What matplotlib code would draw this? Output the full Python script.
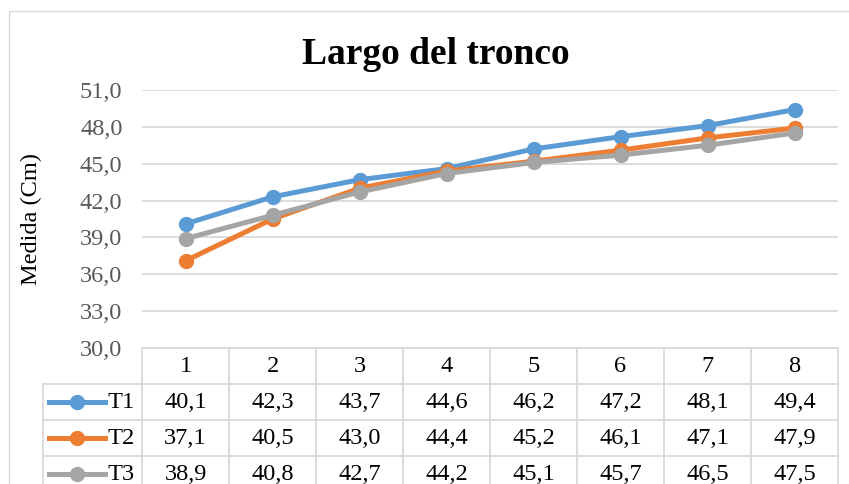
import matplotlib
matplotlib.use("Agg")
import matplotlib.pyplot as plt
from matplotlib.lines import Line2D
import matplotlib.transforms as mtransforms

# datos
semanas = [1, 2, 3, 4, 5, 6, 7, 8]
t1 = [40.1, 42.3, 43.7, 44.6, 46.2, 47.2, 48.1, 49.4]
t2 = [37.1, 40.5, 43.0, 44.4, 45.2, 46.1, 47.1, 47.9]
t3 = [38.9, 40.8, 42.7, 44.2, 45.1, 45.7, 46.5, 47.5]
series = ["T1", "T2", "T3"]
colores = ["#5b9bd5", "#ed7d31", "#a5a5a5"]
yticks = [30, 33, 36, 39, 42, 45, 48, 51]

plt.rcParams['font.family'] = ['Liberation Serif', 'DejaVu Serif']

W, H = 849, 484
fs = 17.6
fig = plt.figure(figsize=(W / 100, H / 100), dpi=100)

# marco del grafico
fig.patches.append(plt.Rectangle((9 / W, -0.1), 1.2, (H - 11) / H + 0.1, transform=fig.transFigure,
                                 fill=False, ec="#d9d9d9", lw=1))

ax = fig.add_axes([142 / W, 1 - 348 / H, (838 - 142) / W, (348 - 90) / H])
x = list(range(len(semanas)))
for vals, c in zip([t1, t2, t3], colores):
    ax.plot(x, vals, color=c, lw=3.6, marker="o", ms=10, zorder=3)

ax.set_xlim(-0.5, len(semanas) - 0.5)
ax.set_ylim(30, 51)
ax.set_yticks(yticks)
ax.set_yticklabels([f"{v:.1f}".replace(".", ",") for v in yticks], color="#595959", fontsize=fs)
ax.tick_params(axis="y", length=0, pad=14)
ax.set_xticks([])
ax.grid(axis="y", color="#d9d9d9", lw=1.3)
for s in ax.spines.values():
    s.set_visible(False)
ax.set_ylabel("Medida (Cm)", fontsize=fs)
ax.yaxis.set_label_coords(-100 / 696, 0.5)
fig.text((303 + 568) / 2 / W, 1 - 55 / H, "Largo del tronco", ha="center", va="center",
         fontsize=27, fontweight="bold")

# tabla de datos
tr = mtransforms.blended_transform_factory(ax.transData, ax.transAxes)
rh = 36 / 258
gc = "#d9d9d9"
xl = -0.5 - 99 / 87
xr = len(semanas) - 0.5
kw = dict(transform=tr, clip_on=False, color=gc, lw=1.3)
# cabecera
ax.add_line(Line2D([-0.5, xr], [0, 0], **kw))
for i in range(len(semanas) + 1):
    ax.add_line(Line2D([i - 0.5, i - 0.5], [0, -4 * rh], **kw))
ax.add_line(Line2D([xl, xl], [-rh, -4 * rh], **kw))
for r in range(1, 4):
    ax.add_line(Line2D([xl, xr], [-r * rh, -r * rh], **kw))
for i, s in enumerate(semanas):
    ax.text(i, -0.5 * rh, str(s), transform=tr, ha="center", va="center", fontsize=fs)

for r, (nombre, vals, c) in enumerate(zip(series, [t1, t2, t3], colores)):
    yc = -(r + 1.5) * rh
    ax.add_line(Line2D([xl + 6 / 87, xl + 62 / 87], [yc, yc], transform=tr, clip_on=False,
                       color=c, lw=3.6))
    ax.plot([xl + 34 / 87], [yc], transform=tr, clip_on=False, color=c, marker="o", ms=10)
    ax.text(xl + 64 / 87, yc, nombre, transform=tr, ha="left", va="center", fontsize=fs)
    for i, v in enumerate(vals):
        ax.text(i, yc, f"{v:.1f}".replace(".", ","), transform=tr, ha="center", va="center",
                fontsize=fs)

fig.savefig("out.png", dpi=100)
